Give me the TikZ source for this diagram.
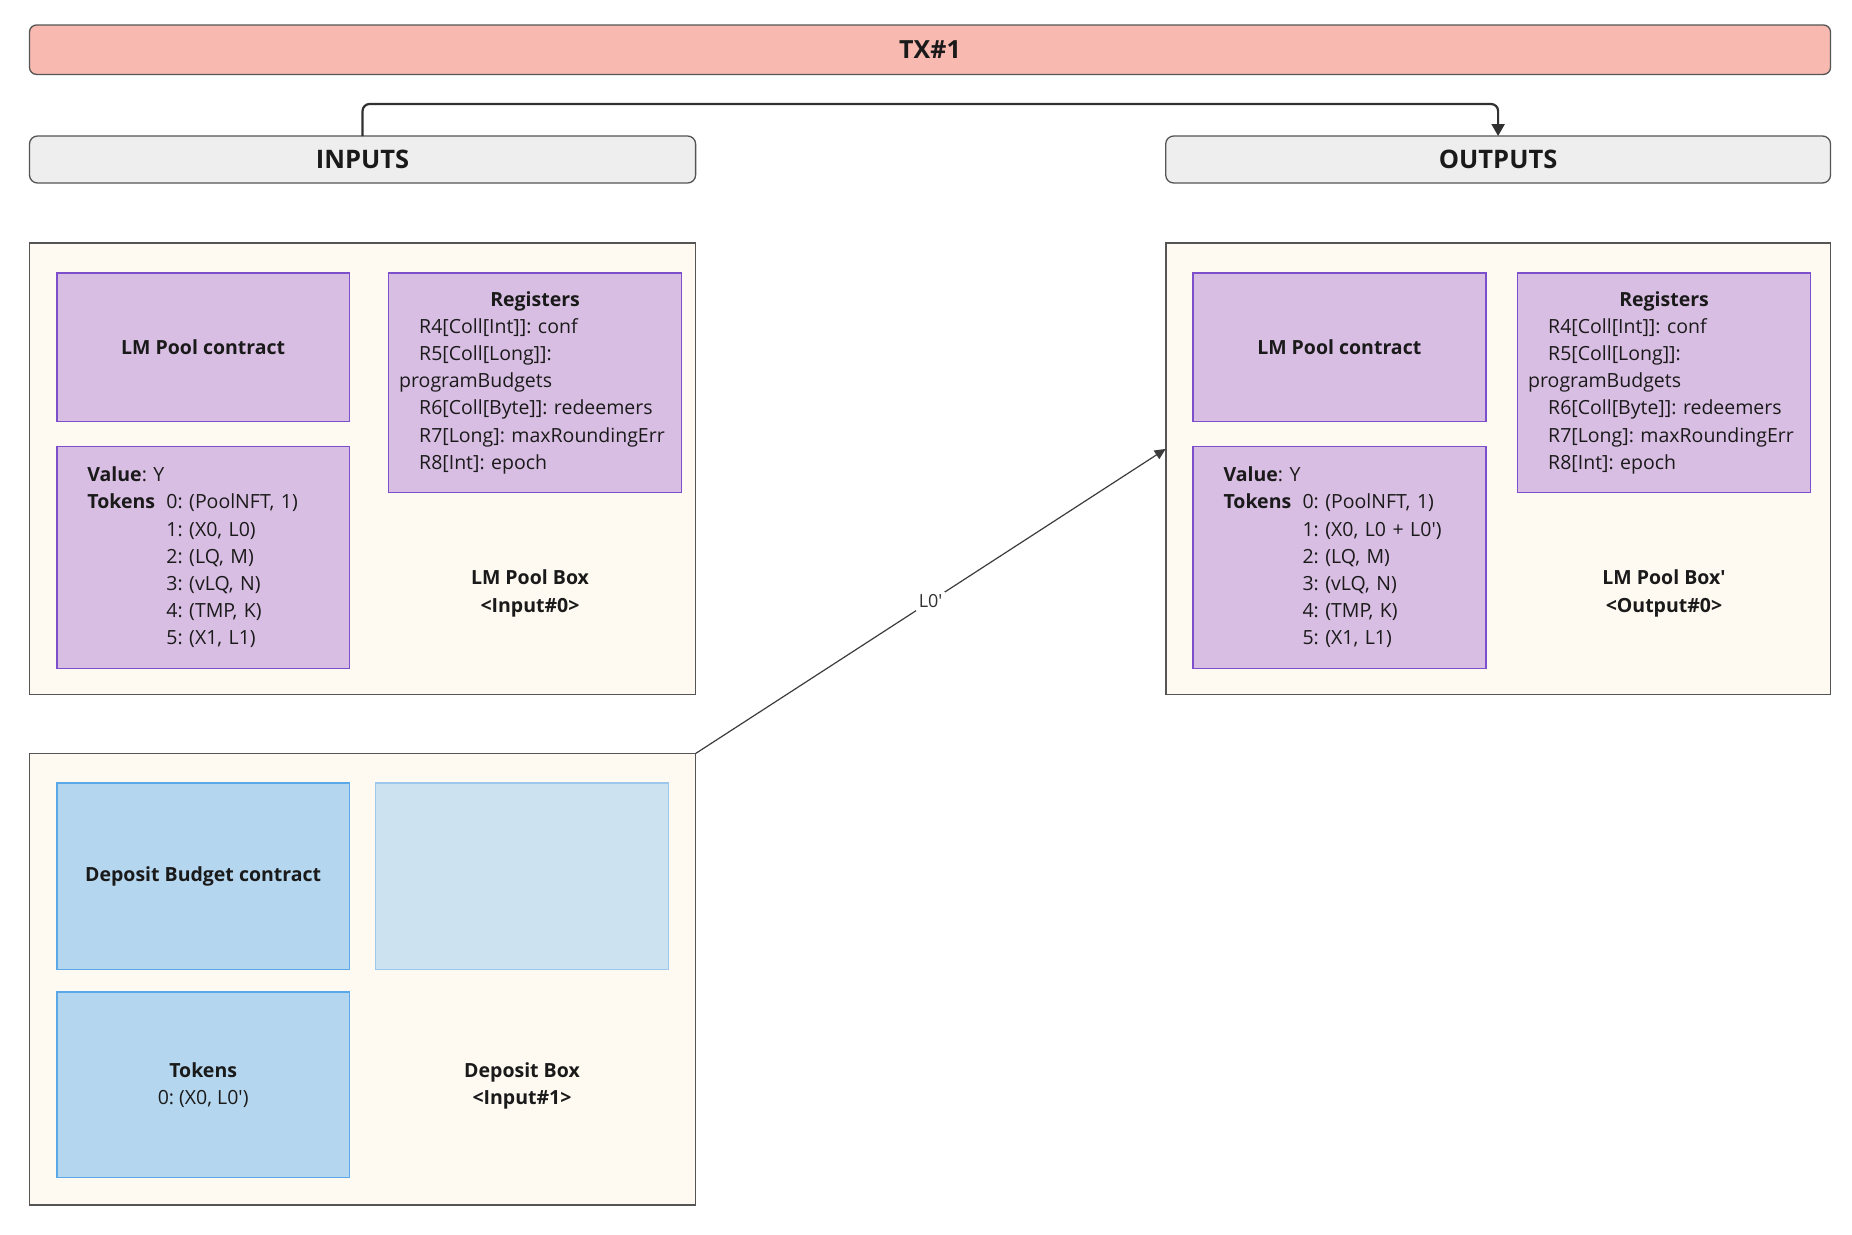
\documentclass[tikz,border=0pt]{standalone}
\usepackage{fontspec}
\setmainfont{Open Sans}
\usetikzlibrary{arrows.meta}
\frenchspacing

\definecolor{txfill}{HTML}{F8B9B0}
\definecolor{headfill}{HTML}{EEEEEE}
\definecolor{boxfill}{HTML}{FEF9F1}
\definecolor{boxline}{HTML}{555555}
\definecolor{lilac}{HTML}{D9BEE3}
\definecolor{lilacline}{HTML}{7E4FCB}
\definecolor{skyfill}{HTML}{B4D6EF}
\definecolor{skyline}{HTML}{5BA8E8}
\definecolor{palesky}{HTML}{CCE2F0}
\definecolor{palesksline}{HTML}{9CC8EE}
\definecolor{ink}{HTML}{1A1A1A}

\newcommand{\prm}{\textquotesingle}

\tikzset{
  body/.style={font=\fontsize{19.5}{27.2}\selectfont, text=ink},
  banner/.style={draw=boxline, line width=1.3pt, rounded corners=7pt, fill=txfill,
    anchor=north west, font=\fontsize{25}{30}\selectfont\bfseries, text=ink},
  header/.style={draw=boxline, line width=1.3pt, rounded corners=8pt, fill=headfill,
    anchor=north west, font=\fontsize{25.5}{30}\selectfont\bfseries, text=ink},
  utxo/.style={draw=boxline, line width=1.7pt, fill=boxfill, anchor=north west},
  lilacbox/.style={body, draw=lilacline, line width=1.6pt, fill=lilac, anchor=north west,
    minimum width=292.9pt},
  skybox/.style={body, draw=skyline, line width=1.6pt, fill=skyfill, anchor=north west,
    minimum width=292.9pt},
  paleskybox/.style={draw=palesksline, line width=1.6pt, fill=palesky, anchor=north west,
    minimum width=292.9pt},
  caption/.style={body, font=\fontsize{19.5}{27.2}\selectfont\bfseries, align=center},
  flow/.style={draw=ink!90, line width=2.2pt, rounded corners=7pt,
    -{Triangle[length=12pt,width=13pt]}},
  transfer/.style={draw=ink!85, line width=1.2pt, -{Triangle[length=11pt,width=10pt]}},
}

\begin{document}
\begin{tikzpicture}[x=1pt, y=-1pt, inner sep=0pt, outer sep=0pt]
\useasboundingbox (0,0) rectangle (1852,1234);
\fill[white] (0,0) rectangle (1852,1234);

% transaction banner and the two column headers
\node[banner, minimum width=1801pt, minimum height=49.4pt] (tx) at (29.5,25) {TX\#1};
\node[header, minimum width=666.1pt, minimum height=47pt] (inputs) at (29.5,136) {INPUTS};
\node[header, minimum width=664.8pt, minimum height=47pt] (outputs) at (1165.7,136) {OUTPUTS};
\draw[flow] (inputs.north) -- ++(0,-32) -| (outputs.north);

% ---- LM pool box, input side ----
\node[utxo, minimum width=666.1pt, minimum height=451.2pt] (lmin) at (29.5,243.3) {};
\node[lilacbox, minimum height=148.8pt, font=\fontsize{19.5}{27.2}\selectfont\bfseries]
  (lmincontract) at (56.7,272.8) {LM Pool contract};
\node[lilacbox, minimum height=219.7pt, text width=271.7pt, inner xsep=10.6pt, align=left]
  (lminregs) at (388.6,272.8) {%
  \makebox[271.7pt]{\textbf{Registers}}\\
  \hspace*{20pt}R4[Coll[Int]]: conf\\
  \hspace*{20pt}R5[Coll[Long]]:\\
  programBudgets\\
  \hspace*{20pt}R6[Coll[Byte]]: redeemers\\
  \hspace*{20pt}R7[Long]: maxRoundingErr\\
  \hspace*{20pt}R8[Int]: epoch};
\node[lilacbox, minimum height=222.1pt, text width=231.5pt, inner xsep=30.7pt, align=left]
  (lminvalue) at (56.7,446.4) {%
  \textbf{Value}: Y\\
  \makebox[79pt][l]{\textbf{Tokens}}0: (PoolNFT, 1)\\
  \hspace*{79pt}1: (X0, L0)\\
  \hspace*{79pt}2: (LQ, M)\\
  \hspace*{79pt}3: (vLQ, N)\\
  \hspace*{79pt}4: (TMP, K)\\
  \hspace*{79pt}5: (X1, L1)};
\node[caption] (lmincap) at (530,593.5) {LM Pool Box\\<Input\#0>};

% ---- LM pool box, output side ----
\node[utxo, minimum width=664.8pt, minimum height=451.2pt] (lmout) at (1165.7,243.3) {};
\node[lilacbox, minimum height=148.8pt, font=\fontsize{19.5}{27.2}\selectfont\bfseries]
  (lmoutcontract) at (1192.8,272.8) {LM Pool contract};
\node[lilacbox, minimum height=219.7pt, text width=271.7pt, inner xsep=10.6pt, align=left]
  (lmoutregs) at (1517.6,272.8) {%
  \makebox[271.7pt]{\textbf{Registers}}\\
  \hspace*{20pt}R4[Coll[Int]]: conf\\
  \hspace*{20pt}R5[Coll[Long]]:\\
  programBudgets\\
  \hspace*{20pt}R6[Coll[Byte]]: redeemers\\
  \hspace*{20pt}R7[Long]: maxRoundingErr\\
  \hspace*{20pt}R8[Int]: epoch};
\node[lilacbox, minimum height=222.1pt, text width=231.5pt, inner xsep=30.7pt, align=left]
  (lmoutvalue) at (1192.8,446.4) {%
  \textbf{Value}: Y\\
  \makebox[79pt][l]{\textbf{Tokens}}0: (PoolNFT, 1)\\
  \hspace*{79pt}1: (X0, L0 + L0\prm)\\
  \hspace*{79pt}2: (LQ, M)\\
  \hspace*{79pt}3: (vLQ, N)\\
  \hspace*{79pt}4: (TMP, K)\\
  \hspace*{79pt}5: (X1, L1)};
\node[caption] (lmoutcap) at (1664,593.5) {LM Pool Box\prm\\<Output\#0>};

% ---- deposit box, input side ----
\node[utxo, minimum width=666.1pt, minimum height=451.2pt] (deposit) at (29.5,753.5) {};
\node[skybox, minimum height=186.6pt, font=\fontsize{19.5}{27.2}\selectfont\bfseries]
  (depcontract) at (56.7,783) {Deposit Budget contract};
\node[paleskybox, minimum height=186.6pt] (depregs) at (375.6,783) {};
\node[skybox, minimum height=185.5pt, align=center] (deptokens) at (56.7,992)
  {\textbf{Tokens}\\0: (X0, L0\prm)};
\node[caption] (depcap) at (522,1086) {Deposit Box\\<Input\#1>};

% deposited amount flowing into the new pool box
\draw[transfer] (deposit.north east) -- node[fill=white, inner sep=3pt, text=ink!90,
  font=\fontsize{18}{22}\selectfont] (l0lab) {L0\prm} ([yshift=20pt]lmout.west);
\end{tikzpicture}
\end{document}
